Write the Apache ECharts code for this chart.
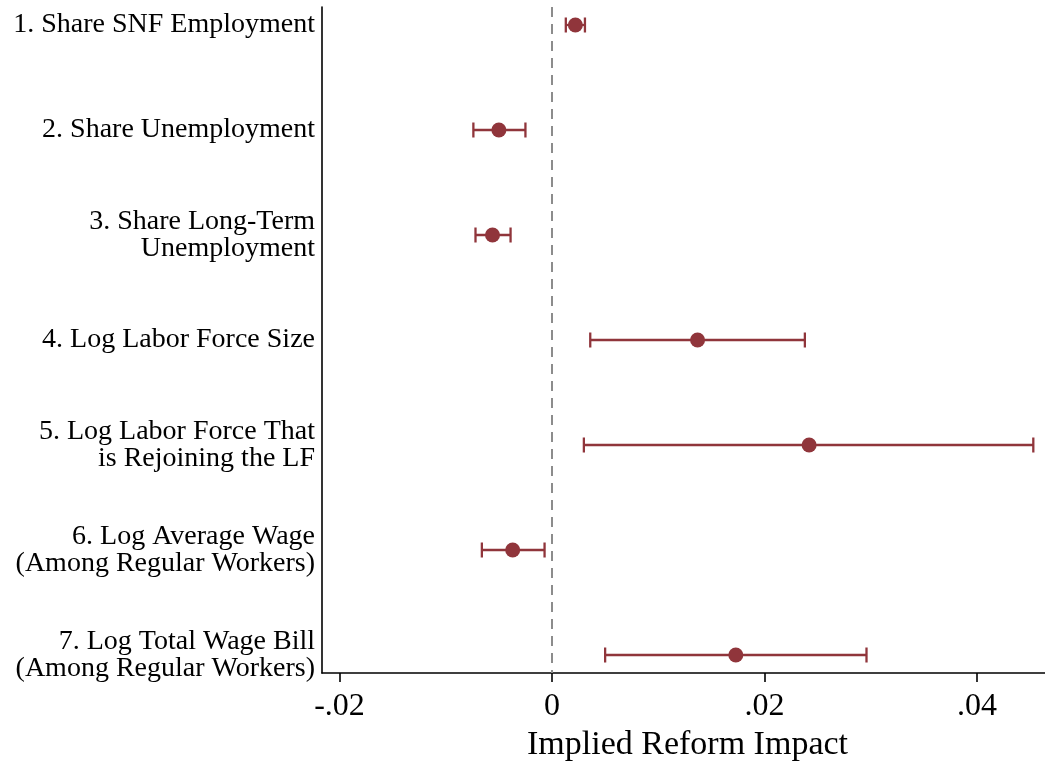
<!DOCTYPE html>
<html>
<head>
<meta charset="utf-8">
<script src="https://cdn.jsdelivr.net/npm/echarts@6/dist/echarts.min.js"></script>
<style>
  html, body { margin: 0; padding: 0; background: #fff; }
  #chart { width: 1045px; height: 761px; }
</style>
</head>
<body>
<div id="chart"></div>
<script>
// Outcome labels, top to bottom
const categories = [
  '1. Share SNF Employment',
  '2. Share Unemployment',
  '3. Share Long-Term\nUnemployment',
  '4. Log Labor Force Size',
  '5. Log Labor Force That\nis Rejoining the LF',
  '6. Log Average Wage\n(Among Regular Workers)',
  '7. Log Total Wage Bill\n(Among Regular Workers)'
];
// Point estimates and confidence bounds
const estimates = [0.0022, -0.0050, -0.0056, 0.0137, 0.0242, -0.0037, 0.0173];
const lower     = [0.0013, -0.0074, -0.0072, 0.0036, 0.0030, -0.0066, 0.0050];
const upper     = [0.0031, -0.0025, -0.0039, 0.0238, 0.0453, -0.0007, 0.0296];
// x-axis tick values
const xTicks = [-0.02, 0, 0.02, 0.04];

const rows = categories.map((_, i) => i + 1);
const RED = '#90353b';
const FONT = '"Liberation Serif", "Times New Roman", serif';

function fmtTick(v) {
  if (Math.abs(v) < 1e-12) return '0';
  const s = String(Math.round(Math.abs(v) * 1000) / 1000).replace(/^0/, '');
  return (v < 0 ? '-' : '') + s;
}

const chart = echarts.init(document.getElementById('chart'), null, { renderer: 'canvas' });

chart.setOption({
  animation: false,
  backgroundColor: '#ffffff',
  grid: { left: 322, right: 0, top: 7, bottom: 88, containLabel: false, outerBoundsMode: 'none' },
  xAxis: {
    type: 'value',
    min: -0.021647,
    max: 0.0464,
    name: 'Implied Reform Impact',
    nameLocation: 'middle',
    nameGap: 49,
    nameTextStyle: { fontFamily: FONT, fontSize: 34, color: '#000', padding: [0, 0, 0, 8] },
    axisLine: { show: true, onZero: false, lineStyle: { color: '#000', width: 1.6 } },
    axisTick: { show: true, customValues: xTicks, length: 9, lineStyle: { color: '#000', width: 1.6 } },
    axisLabel: {
      customValues: xTicks,
      formatter: fmtTick,
      fontFamily: FONT, fontSize: 32, color: '#000', margin: 18
    },
    splitLine: { show: false }
  },
  yAxis: {
    type: 'value',
    inverse: true,
    min: 0.8286,
    max: 7.1714,
    axisLine: { show: true, onZero: false, lineStyle: { color: '#000', width: 1.6 } },
    axisTick: { show: false },
    axisLabel: {
      customValues: rows,
      formatter: v => categories[Math.round(v) - 1] || '',
      fontFamily: FONT, fontSize: 28, lineHeight: 27, color: '#000', margin: 7, align: 'right'
    },
    splitLine: { show: false }
  },
  series: [
    {
      // confidence intervals with end caps
      type: 'custom',
      data: rows.map((r, i) => [lower[i], upper[i], r]),
      renderItem: function (params, api) {
        const a = api.coord([api.value(0), api.value(2)]);
        const b = api.coord([api.value(1), api.value(2)]);
        const h = 7.5;
        const st = { stroke: RED, lineWidth: 2.3 };
        return {
          type: 'group',
          children: [
            { type: 'line', shape: { x1: a[0], y1: a[1], x2: b[0], y2: b[1] }, style: st },
            { type: 'line', shape: { x1: a[0], y1: a[1] - h, x2: a[0], y2: a[1] + h }, style: st },
            { type: 'line', shape: { x1: b[0], y1: b[1] - h, x2: b[0], y2: b[1] + h }, style: st }
          ]
        };
      },
      z: 2
    },
    {
      type: 'scatter',
      data: rows.map((r, i) => [estimates[i], r]),
      symbol: 'circle',
      symbolSize: 15,
      itemStyle: { color: RED, opacity: 1 },
      z: 3,
      markLine: {
        silent: true,
        symbol: 'none',
        label: { show: false },
        lineStyle: { color: '#8c8c8c', type: [10, 7], width: 2 },
        data: [{ xAxis: 0 }],
        z: 1
      }
    }
  ]
});
</script>
</body>
</html>
